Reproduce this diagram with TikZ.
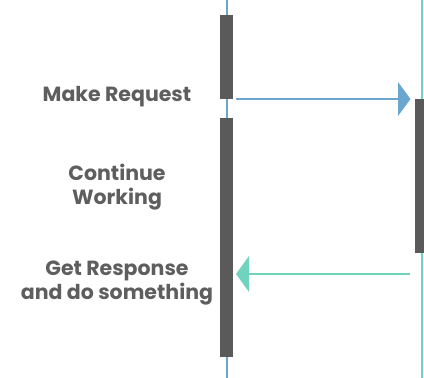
\documentclass[tikz,border=0pt]{standalone}
\usepackage{fontspec}
\setmainfont{Poppins}
\definecolor{lblue}{HTML}{6AA6CE}
\definecolor{lteal}{HTML}{6FD3BE}
\definecolor{bargray}{HTML}{5A5A5A}
\definecolor{txtgray}{HTML}{5E5E5E}
\begin{document}
\begin{tikzpicture}[x=1pt,y=-1pt,
  lifeline/.style={line width=1.8pt},
  bar/.style={fill=bargray,draw=none},
  msg/.style={line width=2.4pt},
  lbl/.style={text=txtgray,font=\bfseries\fontsize{20.5}{24}\selectfont,align=center,inner sep=0pt}]
\useasboundingbox (0,0) rectangle (424,378);
% lifelines
\coordinate (ltop) at (227,0);
\coordinate (lbot) at (227,378);
\coordinate (rtop) at (422,0);
\coordinate (rbot) at (422,378);
\draw[lifeline,lblue] (ltop) -- (lbot);
\draw[lifeline,lteal] (rtop) -- (rbot);
% activation bars
\node[bar,minimum width=13pt,minimum height=84pt,inner sep=0pt,anchor=north] (b1) at (226.7,15) {};
\node[bar,minimum width=13pt,minimum height=239pt,inner sep=0pt,anchor=north] (b2) at (226.7,118) {};
\node[bar,minimum width=13pt,minimum height=154pt,inner sep=0pt,anchor=north west] (b3) at (415,99) {};
% messages
\coordinate (a1s) at (236,99);
\coordinate (a1e) at (399,99);
\draw[msg,lblue] (a1s) -- (a1e);
\fill[lblue] (398,82) -- (410.5,99) -- (398,116) -- cycle;
\coordinate (a2s) at (410,274);
\coordinate (a2e) at (248,274);
\draw[msg,lteal] (a2s) -- (a2e);
\fill[lteal] (249,256) -- (236,274) -- (249,292) -- cycle;
% labels
\node[lbl,anchor=base] (t1) at (117,101) {Make Request};
\node[lbl,anchor=base] (t2) at (117,180) {Continue};
\node[lbl,anchor=base] (t3) at (117,204) {Working};
\node[lbl,anchor=base] (t4) at (117,275) {Get Response};
\node[lbl,anchor=base] (t5) at (117,299) {and do something};
\end{tikzpicture}
\end{document}
